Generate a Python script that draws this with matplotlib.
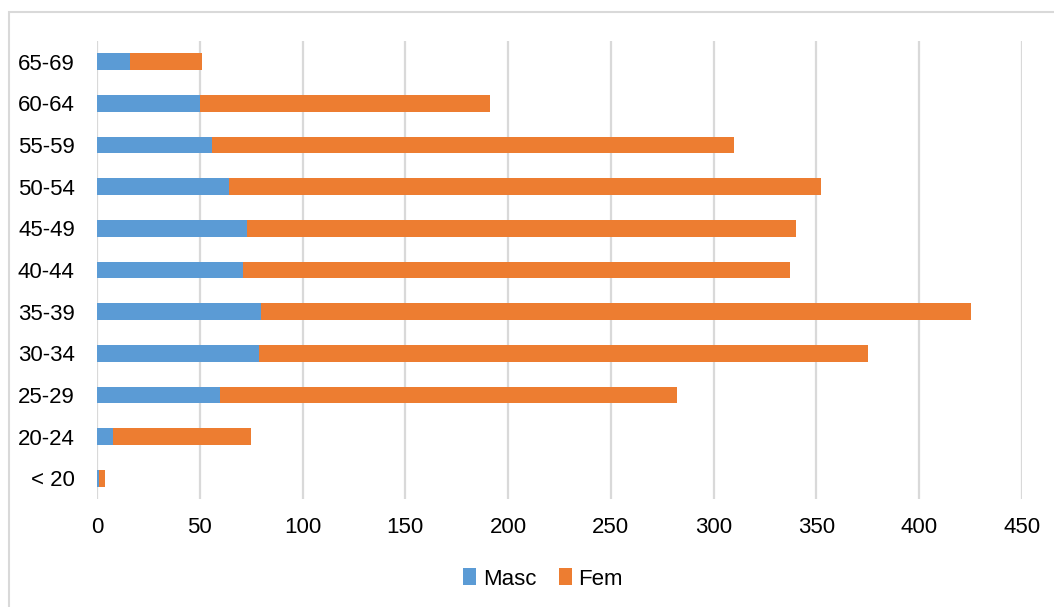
import numpy as np
import matplotlib
matplotlib.use("Agg")
import matplotlib.pyplot as plt
from matplotlib.patches import Rectangle

# age groups, bottom to top
ages = ["< 20", "20-24", "25-29", "30-34", "35-39", "40-44",
        "45-49", "50-54", "55-59", "60-64", "65-69"]
masc = [1, 8, 60, 79, 80, 71, 73, 64, 56, 50, 16]
fem = [3, 67, 222, 296, 345, 266, 267, 288, 254, 141, 35]
xticks = [0, 50, 100, 150, 200, 250, 300, 350, 400, 450]

plt.rcParams['font.family'] = ['Liberation Sans Narrow', 'Liberation Sans', 'DejaVu Sans']

W, H = 1054, 607
fig = plt.figure(figsize=(W / 100, H / 100), dpi=100)
ax = fig.add_axes([97 / W, 1 - 499 / H, (1022 - 97) / W, (499 - 41) / H])

# outer chart frame
fig.patches.append(Rectangle((9 / W, -0.1), 1.2, 1 - 12 / H + 0.1,
                             transform=fig.transFigure, fill=False,
                             edgecolor="#d9d9d9", linewidth=1.5))

y = np.arange(len(ages))
ax.barh(y, masc, height=0.4, color="#5B9BD5", label="Masc", zorder=3)
ax.barh(y, fem, left=masc, height=0.4, color="#ED7D31", label="Fem", zorder=3)

ax.set_xlim(0, 450)
ax.set_ylim(-0.5, len(ages) - 0.5)
ax.set_xticks(xticks)
ax.set_yticks(y)
ax.set_yticklabels(ages)
ax.tick_params(axis="both", length=0, labelsize=16)
ax.tick_params(axis="y", pad=16)
ax.tick_params(axis="x", pad=13)
for s in ax.spines.values():
    s.set_visible(False)
ax.grid(axis="x", color="#d9d9d9", linewidth=1.6, zorder=0)
ax.set_axisbelow(True)

fig.legend(loc="center", bbox_to_anchor=(543 / W, 1 - 579 / H), ncol=2,
           frameon=False, fontsize=16, handlelength=0.6, handleheight=0.8,
           handletextpad=0.3, columnspacing=1.0)

fig.savefig("out.png", dpi=100)
